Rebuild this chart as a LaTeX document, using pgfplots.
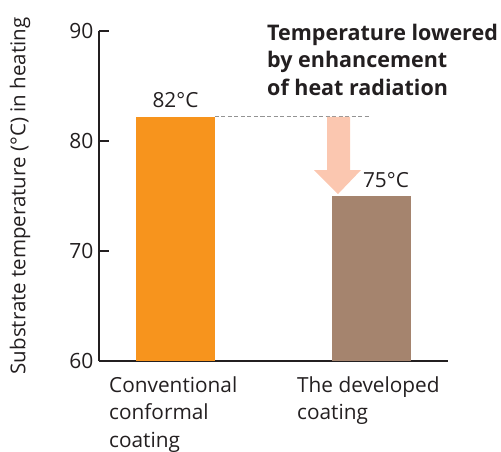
\documentclass[border=0pt]{standalone}
\usepackage{pgfplots}
\pgfplotsset{compat=1.18}
\usepackage{fontspec}
\setmainfont{Open Sans}
\definecolor{barorange}{HTML}{F7941D}
\definecolor{barbrown}{HTML}{A5846E}
\definecolor{arrowpink}{HTML}{FBC7B0}
\definecolor{axisgray}{HTML}{231F20}
\definecolor{txt}{HTML}{231F20}
\begin{document}
\begin{tikzpicture}[x=1pt,y=1pt]
\begin{axis}[
  at={(0,0)}, anchor=south west,
  width=349pt, height=330pt, scale only axis,
  xmin=0, xmax=349, ymin=60, ymax=90,
  axis x line=bottom, axis y line=left,
  axis line style={-, line width=2.5pt, color=axisgray},
  ytick={60,70,80,90},
  ytick style={line width=1.5pt, color=axisgray},
  tick align=inside, major tick length=10pt,
  xtick={10,198},
  xtick style={draw=none},
  xticklabels={{Conventional\\conformal\\coating},{The developed\\coating}},
  xticklabel style={anchor=north west, align=left, font=\fontsize{20.8}{27.5}\selectfont, text=txt, yshift=-12pt, inner xsep=0pt},
  yticklabel style={font=\fontsize{21}{24}\selectfont, text=txt, xshift=-2pt},
  /pgf/number format/assume math mode=true,
  ylabel={Substrate temperature (°C) in heating},
  ylabel style={at={(axis description cs:-0.2264,0.5)}, anchor=center, font=\fontsize{20.5}{24}\selectfont, text=txt},
]
\addplot[ybar, bar width=79, bar shift=0pt, fill=barorange, draw=none] coordinates {(76.5,82.2)};
\addplot[ybar, bar width=79, bar shift=0pt, fill=barbrown, draw=none] coordinates {(272.5,75)};
\draw[dash pattern=on 4pt off 2.5pt, color=gray!85, line width=1pt] (axis cs:116,82.2) -- (axis cs:271,82.2);
\fill[arrowpink] (axis cs:228,82.2) -- (axis cs:251,82.2) -- (axis cs:251,77.36) -- (axis cs:262,77.36) -- (axis cs:239,75.18) -- (axis cs:215,77.36) -- (axis cs:228,77.36) -- cycle;
\node[font=\fontsize{20.8}{24}\selectfont, text=txt] at (axis cs:76.5,83.73) {82°C};
\node[font=\fontsize{20.8}{24}\selectfont, text=txt] at (axis cs:287,76.45) {75°C};
\end{axis}
\node[anchor=base west, align=left, font=\bfseries\fontsize{21.5}{27.5}\selectfont, text=txt, inner sep=0pt] at (168,266) {Temperature lowered\\by enhancement\\of heat radiation};
\pgfresetboundingbox
\useasboundingbox (-99,-90) rectangle (402,361);
\end{tikzpicture}
\end{document}
